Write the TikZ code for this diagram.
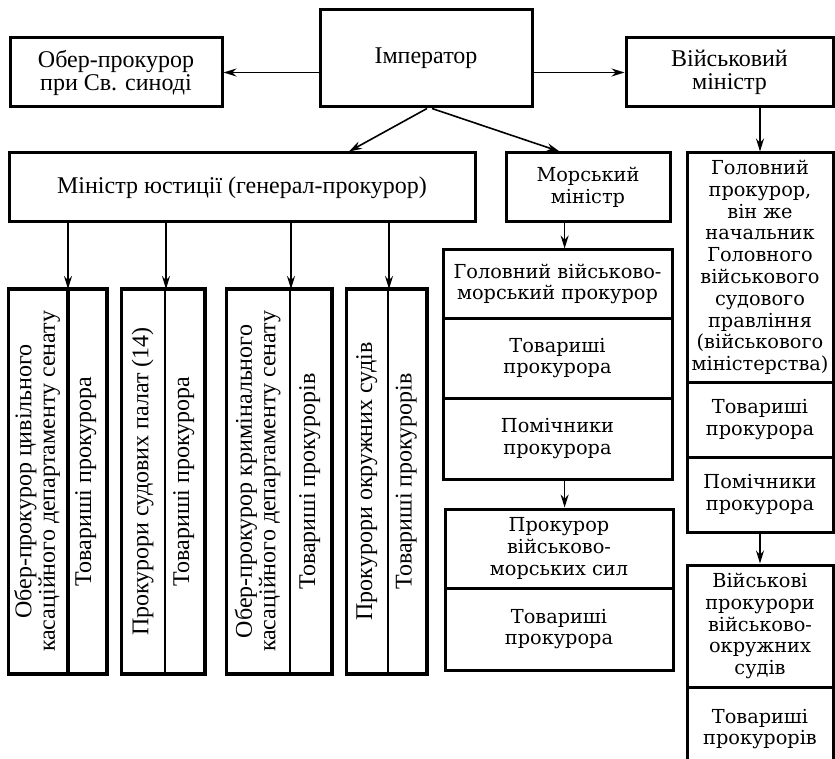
\documentclass[tikz,border=0pt]{standalone}
\usepackage{fontspec}
\usepackage{graphicx}
\setmainfont{Liberation Serif}
\newfontfamily\wideserif{DejaVu Serif}
\usetikzlibrary{arrows.meta,calc}

\newcommand{\ltext}{\fontsize{24}{23}\selectfont}
\newcommand{\rtext}{\wideserif\fontsize{19.3}{21.8}\selectfont}
\newcommand{\vlabel}[1]{\rotatebox{90}{\begin{tabular}{@{}c@{}}#1\end{tabular}}}

\begin{document}
\begin{tikzpicture}[
  x=1pt,y=-1pt,
  box/.style={draw, line width=3pt, inner sep=0pt, align=center, font=\ltext},
  wbox/.style={box, font=\rtext},
  part/.style={draw, line width=2pt, inner sep=0pt, font=\ltext},
  frame/.style={line width=3pt},
  arrow/.style={-{Stealth[length=13pt,width=8pt]}, line width=1.6pt}
]
\useasboundingbox (0,0) rectangle (835,759);
% top row
\node[box, minimum width=212pt, minimum height=97pt] (imp) at (426,58.5) {Імператор};
\node[box, minimum width=212pt, minimum height=69pt] (ober) at (116,72.5) {Обер-прокурор\\при Св. синоді};
\node[box, minimum width=207pt, minimum height=69pt] (vmin) at (729.5,72.5) {Військовий\\міністр};
% ministers
\node[box, minimum width=466pt, minimum height=69pt] (just) at (242,187.5) {Міністр юстиції (генерал-прокурор)};
\node[wbox, minimum width=164pt, minimum height=69pt] (mmin) at (588,187.5) {Морський\\міністр};
% justice branch
\node[part, minimum width=58pt, minimum height=383pt] (pr1) at (38,481.5) {\vlabel{Обер-прокурор цивільного\\касаційного департаменту сенату}};
\node[part, minimum width=39pt, minimum height=383pt] (tv1) at (86.5,481.5) {\vlabel{Товариші прокурора}};
\node[part, minimum width=43pt, minimum height=383pt] (pr2) at (143.5,481.5) {\vlabel{Прокурори судових палат (14)}};
\node[part, minimum width=39pt, minimum height=383pt] (tv2) at (184.5,481.5) {\vlabel{Товариші прокурора}};
\node[part, minimum width=63pt, minimum height=383pt] (pr3) at (258.5,481.5) {\vlabel{Обер-прокурор кримінального\\касаційного департаменту сенату}};
\node[part, minimum width=41pt, minimum height=383pt] (tv3) at (310.5,481.5) {\vlabel{Товариші прокурорів}};
\node[part, minimum width=41pt, minimum height=383pt] (pr4) at (367.5,481.5) {\vlabel{Прокурори окружних судів}};
\node[part, minimum width=38pt, minimum height=383pt] (tv4) at (407,481.5) {\vlabel{Товариші прокурорів}};
\foreach \i in {1,...,4} {
  \draw[frame] (pr\i.north west) rectangle (tv\i.south east);
  \draw[arrow] (just.south -| pr\i.north east) -- (pr\i.north east);
}
\draw[frame] (pr1.north east) -- (pr1.south east);
% naval branch
\node[wbox, minimum width=229pt, minimum height=68pt] (m1) at (557.5,284) {Головний військово-\\морський прокурор};
\node[wbox, minimum width=229pt, minimum height=80pt] (m2) at (557.5,358) {Товариші\\прокурора};
\node[wbox, minimum width=229pt, minimum height=81pt] (m3) at (557.5,438.5) {Помічники\\прокурора};
\node[wbox, minimum width=228pt, minimum height=79pt] (m4) at (559,548.5) {Прокурор\\військово-\\морських сил};
\node[wbox, minimum width=228pt, minimum height=82pt] (m5) at (559,629) {Товариші\\прокурора};
% army branch
\node[wbox, minimum width=146pt, minimum height=229pt] (r1) at (760,267.5) {Головний\\прокурор,\\він же\\начальник\\Головного\\військового\\судового\\правління\\(військового\\міністерства)};
\node[wbox, minimum width=146pt, minimum height=75pt] (r2) at (760,419.5) {Товариші\\прокурора};
\node[wbox, minimum width=146pt, minimum height=75pt] (r3) at (760,494.5) {Помічники\\прокурора};
\node[wbox, minimum width=146pt, minimum height=122pt] (r4) at (760,626) {Військові\\прокурори\\військово-\\окружних\\судів};
\node[wbox, minimum width=146pt, minimum height=84pt] (r5) at (760,729) {Товариші\\прокурорів};
% arrows
\draw[arrow] (ober.east -| imp.west) -- (ober.east);
\draw[arrow] (vmin.west -| imp.east) -- (vmin.west);
\draw[arrow] ([xshift=1pt]imp.south) -- ($(just.north west)!.728!(just.north east)$);
\draw[arrow] ([xshift=6pt]imp.south) -- ($(mmin.north west)!.33!(mmin.north east)$);
\draw[arrow] (vmin.south -| r1.north) -- (r1.north);
\draw[arrow] ($(mmin.south west)!.36!(mmin.south east)$) coordinate (ma) -- (ma |- m1.north);
\draw[arrow] (m3.south -| ma) -- (ma |- m4.north);
\draw[arrow] (r3.south) -- (r4.north);
\end{tikzpicture}
\end{document}
